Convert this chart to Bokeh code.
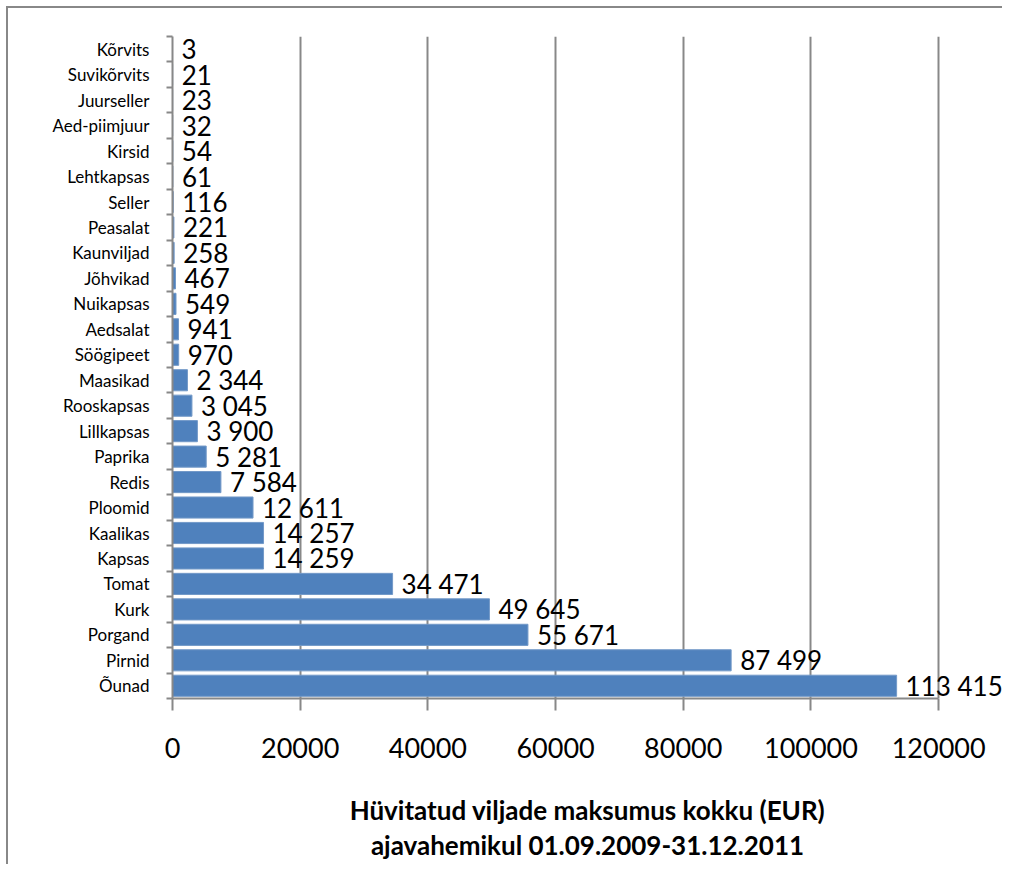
from bokeh.plotting import figure
from bokeh.models import ColumnDataSource, Range1d, FixedTicker, BasicTickFormatter
from bokeh.core.properties import value
from bokeh.embed import file_html
from bokeh.resources import INLINE

categories = ["Õunad", "Pirnid", "Porgand", "Kurk", "Tomat", "Kapsas", "Kaalikas",
              "Ploomid", "Redis", "Paprika", "Lillkapsas", "Rooskapsas", "Maasikad",
              "Söögipeet", "Aedsalat", "Nuikapsas", "Jõhvikad", "Kaunviljad", "Peasalat",
              "Seller", "Lehtkapsas", "Kirsid", "Aed-piimjuur", "Juurseller",
              "Suvikõrvits", "Kõrvits"]
values = [113415, 87499, 55671, 49645, 34471, 14259, 14257, 12611, 7584, 5281,
          3900, 3045, 2344, 970, 941, 549, 467, 258, 221, 116, 61, 54, 32, 23, 21, 3]
x_ticks = [0, 20000, 40000, 60000, 80000, 100000, 120000]
axis_title = "Hüvitatud viljade maksumus kokku (EUR)\najavahemikul 01.09.2009-31.12.2011"

ys = list(range(len(categories)))
labels = [f"{v:,}".replace(",", " ") for v in values]
src = ColumnDataSource(dict(y=ys, v=values, lab=labels))

GRAY = "#888888"
FONT = "Lato"

p = figure(width=1002, height=864, output_backend="svg", toolbar_location=None,
           x_range=Range1d(0, 130000), y_range=Range1d(-0.5, len(categories) - 0.5),
           min_border_left=172, min_border_right=0, min_border_top=36,
           min_border_bottom=166)
# thin chart-area frame (left and top edges) drawn as a background behind a transparent border area
p.styles = {
    "background": (f"linear-gradient({GRAY}, {GRAY}) 6px 6px / 2px 100% no-repeat, "
                   f"linear-gradient({GRAY}, {GRAY}) 6px 6px / 100% 2px no-repeat")
}
p.outline_line_color = None
p.background_fill_color = "white"
p.border_fill_alpha = 0

p.hbar(y="y", right="v", left=0, height=0.83, source=src,
       fill_color="#4F81BD", line_color="#7399C8", line_width=1)
p.text(x="v", y="y", text="lab", source=src, x_offset=9,
       text_baseline="middle", text_align="left",
       text_font=value(FONT), text_font_size="26px", text_color="black")

xt = FixedTicker(ticks=x_ticks, minor_ticks=[])
xa = p.xaxis[0]
xa.ticker = xt
xa.formatter = BasicTickFormatter(use_scientific=False)
xa.bounds = (0, 120000)
xa.axis_line_color = GRAY
xa.axis_line_width = 2
xa.major_tick_out = 12
xa.major_tick_in = 0
xa.minor_tick_out = 0
xa.minor_tick_in = 0
xa.major_tick_line_color = GRAY
xa.major_tick_line_width = 2
xa.major_label_text_font = FONT
xa.major_label_text_font_size = "27px"
xa.major_label_text_color = "black"
xa.major_label_standoff = 27
xa.axis_label = axis_title
xa.axis_label_text_font = FONT
xa.axis_label_text_font_style = "bold"
xa.axis_label_text_font_size = "26px"
xa.axis_label_text_color = "black"
xa.axis_label_text_line_height = 1.1
xa.axis_label_standoff = 33

p.xgrid.ticker = xt
p.xgrid.grid_line_color = GRAY
p.xgrid.grid_line_width = 2
p.ygrid.visible = False

ya = p.yaxis[0]
ya.ticker = FixedTicker(ticks=ys, minor_ticks=[i - 0.5 for i in range(len(categories) + 1)])
ya.major_label_overrides = {i: c for i, c in enumerate(categories)}
ya.axis_line_color = GRAY
ya.axis_line_width = 2
ya.major_tick_out = 0
ya.major_tick_in = 0
ya.minor_tick_out = 6
ya.minor_tick_in = 0
ya.minor_tick_line_color = GRAY
ya.minor_tick_line_width = 2
ya.major_label_text_font = FONT
ya.major_label_text_font_size = "17px"
ya.major_label_text_color = "black"
ya.major_label_standoff = 17

open("out.html", "w").write(file_html(p, INLINE))
